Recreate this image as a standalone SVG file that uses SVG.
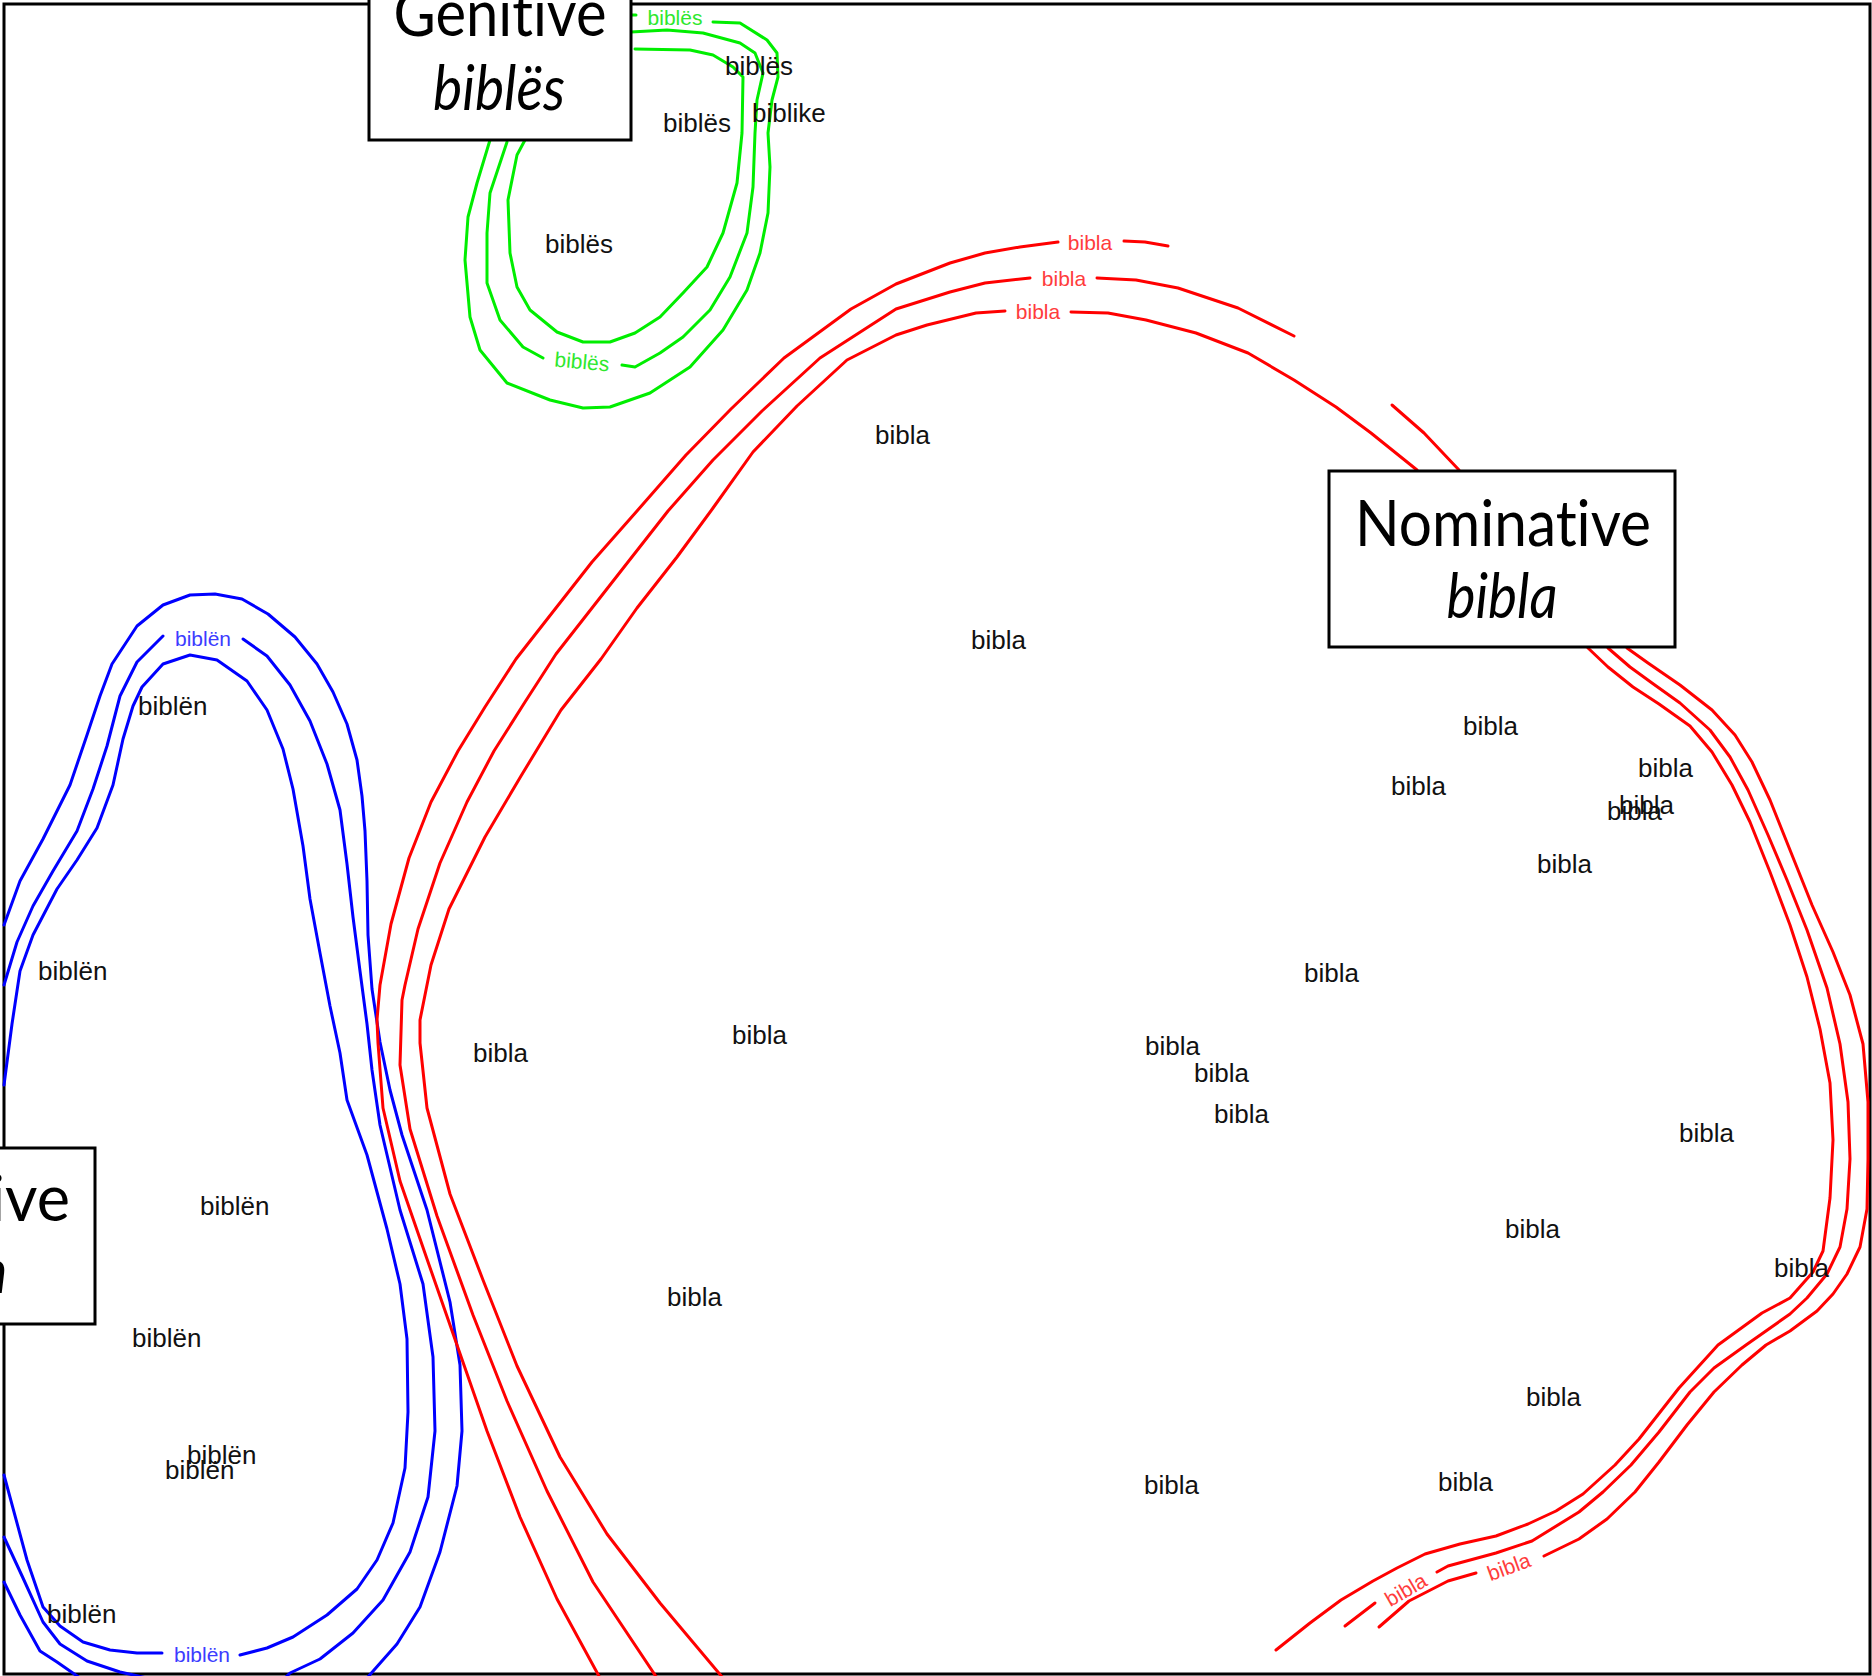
<svg xmlns="http://www.w3.org/2000/svg" width="1872" height="1676" viewBox="0 0 1872 1676">
<style>
.w{font-family:"Liberation Sans",Arial,sans-serif;font-size:26px;fill:#111}
.l{font-family:"Liberation Sans",Arial,sans-serif;font-size:21px;text-anchor:middle}
.lr{fill:#ff3c3c}.lg{fill:#2ee82e}.lb{fill:#3c3cff}
.t{font-family:Lato,"Open Sans",sans-serif;font-size:63px;fill:#000;font-variant-ligatures:none;font-feature-settings:"liga" 0,"dlig" 0}
.it{font-style:italic}
.c{fill:none;stroke-width:3;stroke-linejoin:round;stroke-linecap:round}
.r{stroke:#ff0000}.g{stroke:#00ee00}.b{stroke:#0000ff}
.box{fill:#fff;stroke:#000;stroke-width:3}
</style>
<rect x="0" y="0" width="1872" height="1676" fill="#fff"/>
<rect id="frame" x="4" y="4" width="1866" height="1670" fill="none" stroke="#000" stroke-width="3"/>

<g id="connectors">
  <!-- blue (Accusative) -->
  <polyline class="c b" points="4,925 20,881 43,839 70,785 87,735 100,696 112,664 137,626 163,605 190,595 215,594 242,599 268,614 295,637 317,664 333,692 347,724 357,760 362,796 365,831 367,881 368,935 372,989 380,1042 390,1090 402,1135 427,1210 450,1302 460,1365 462,1431 457,1486 440,1552 420,1607 397,1644 367,1678"/>
  <polyline class="c b" points="4,985 17,942 33,906 53,871 77,831 93,789 107,746 120,696 137,662 163,636"/>
  <polyline class="c b" points="243,639 267,656 290,685 310,721 327,764 340,810 347,864 353,917 360,971 367,1024 372,1070 380,1125 400,1210 423,1284 433,1357 435,1431 428,1497 410,1552 383,1600 353,1633 320,1659 290,1673 285,1678"/>
  <polyline class="c b" points="4,1085 12,1024 20,971 33,935 57,889 77,860 97,828 113,785 123,739 133,706 142,687 163,664 190,655 217,660 247,681 267,710 283,749 293,789 303,846 310,899 320,953 330,1006 340,1053 347,1100 367,1155 387,1229 400,1284 407,1339 408,1412 405,1468 393,1523 377,1560 357,1589 327,1615 293,1637 267,1648 240,1655"/>
  <polyline class="c b" points="162,1653 137,1653 110,1650 83,1642 60,1626 43,1607 27,1560 4,1475"/>
  <polyline class="c b" points="4,1537 23,1578 43,1622 60,1644 87,1661 120,1672 147,1678"/>
  <polyline class="c b" points="4,1582 20,1615 40,1651 57,1662 80,1678"/>
  <text class="l lb" x="203" y="646">biblën</text>
  <text class="l lb" x="202" y="1662">biblën</text>

  <!-- red (Nominative) -->
  <polyline class="c r" points="600,1678 557,1599 520,1517 487,1431 457,1345 427,1259 400,1181 383,1108 378,1043 377,1020 380,985 391,924 409,858 431,802 458,751 485,707 516,659 552,613 592,562 637,511 686,455 731,409 784,358 851,309 896,284 950,263 985,253 1020,247 1058,242"/>
  <polyline class="c r" points="1124,241 1145,242 1168,246"/>
  <polyline class="c r" points="657,1678 593,1582 547,1491 507,1401 473,1315 437,1216 410,1129 400,1065 402,1000 405,985 418,929 440,863 467,802 494,751 525,702 556,654 592,608 628,562 668,511 713,460 762,411 820,358 896,309 950,292 985,283 1030,278"/>
  <polyline class="c r" points="1097,278 1136,280 1178,288 1238,308 1294,336"/>
  <polyline class="c r" points="1392,405 1424,433 1459,470"/>
  <polyline class="c r" points="723,1678 660,1603 607,1534 560,1457 517,1366 483,1280 450,1194 427,1108 420,1043 420,1020 431,965 449,909 485,837 521,776 561,710 601,659 637,608 677,557 713,508 753,452 797,406 847,360 896,335 927,325 976,313 1005,311"/>
  <polyline class="c r" points="1071,312 1108,313 1146,320 1196,333 1248,353 1294,380 1336,407 1371,433 1417,470"/>
  <polyline class="c r" points="1588,648 1608,667 1633,687 1659,704 1690,726 1712,752 1732,785 1750,822 1770,872 1790,925 1807,977 1820,1029 1830,1083 1833,1140 1830,1198 1823,1251 1813,1272 1790,1298 1762,1313 1718,1345 1679,1388 1639,1439 1615,1465 1583,1494 1556,1511 1528,1524 1496,1536 1460,1544 1425,1554 1397,1568 1373,1581 1341,1600 1310,1623 1276,1650"/>
  <polyline class="c r" points="1608,648 1630,667 1652,683 1680,703 1710,730 1730,757 1748,790 1768,835 1787,880 1807,930 1827,988 1840,1044 1848,1102 1850,1159 1847,1209 1840,1247 1827,1274 1807,1298 1790,1314 1746,1345 1714,1368 1690,1392 1659,1432 1631,1465 1603,1492 1579,1512 1532,1541 1496,1553 1448,1566 1437,1572"/>
  <polyline class="c r" points="1375,1603 1345,1626"/>
  <polyline class="c r" points="1627,648 1648,663 1680,685 1712,710 1735,735 1752,762 1770,800 1790,850 1812,905 1833,952 1850,995 1863,1044 1868,1102 1868,1159 1867,1209 1860,1247 1847,1274 1833,1294 1817,1311 1790,1331 1766,1345 1742,1365 1714,1392 1687,1425 1659,1462 1635,1492 1607,1519 1579,1539 1544,1556"/>
  <polyline class="c r" points="1476,1573 1448,1581 1409,1601 1379,1627"/>
  <text class="l lr" x="1090" y="250">bibla</text>
  <text class="l lr" x="1064" y="286">bibla</text>
  <text class="l lr" x="1038" y="319">bibla</text>
  <text class="l lr" transform="translate(1406,1590) rotate(-30)" x="0" y="7">bibla</text>
  <text class="l lr" transform="translate(1509,1567) rotate(-20)" x="0" y="7">bibla</text>

  <!-- green (Genitive) -->
  <polyline class="c g" points="631,15 636,15"/>
  <polyline class="c g" points="713,22 740,23 767,40 777,53 778,77 772,100 768,133 770,167 768,213 760,253 747,290 723,330 690,367 650,393 610,407 583,408 550,400 507,383 480,350 470,317 465,260 468,217 477,183 490,140"/>
  <polyline class="c g" points="631,32 667,30 703,33 740,43 755,53 763,73 757,100 755,133 753,187 747,233 730,277 710,310 683,337 660,353 635,367 622,365"/>
  <polyline class="c g" points="543,358 523,347 500,320 487,283 487,233 490,193 507,142"/>
  <polyline class="c g" points="635,49 690,50 713,55 733,67 743,77 742,133 737,183 723,233 707,267 683,293 660,317 635,333 610,342 583,342 557,332 530,310 517,287 510,253 508,200 517,155 525,140"/>
  <text class="l lg" x="675" y="25">biblës</text>
  <text class="l lg" transform="translate(582,362) rotate(5)" x="0" y="7">biblës</text>
</g>

<g id="words">
  <text class="w" x="875" y="444">bibla</text>
  <text class="w" x="971" y="649">bibla</text>
  <text class="w" x="1463" y="735">bibla</text>
  <text class="w" x="1391" y="795">bibla</text>
  <text class="w" x="1638" y="777">bibla</text>
  <text class="w" x="1619" y="814">bibla</text>
  <text class="w" x="1607" y="820">bibla</text>
  <text class="w" x="1537" y="873">bibla</text>
  <text class="w" x="1304" y="982">bibla</text>
  <text class="w" x="473" y="1062">bibla</text>
  <text class="w" x="732" y="1044">bibla</text>
  <text class="w" x="1145" y="1055">bibla</text>
  <text class="w" x="1194" y="1082">bibla</text>
  <text class="w" x="1214" y="1123">bibla</text>
  <text class="w" x="1679" y="1142">bibla</text>
  <text class="w" x="1505" y="1238">bibla</text>
  <text class="w" x="1774" y="1277">bibla</text>
  <text class="w" x="667" y="1306">bibla</text>
  <text class="w" x="1526" y="1406">bibla</text>
  <text class="w" x="1144" y="1494">bibla</text>
  <text class="w" x="1438" y="1491">bibla</text>
  <text class="w" x="138" y="715">biblën</text>
  <text class="w" x="38" y="980">biblën</text>
  <text class="w" x="200" y="1215">biblën</text>
  <text class="w" x="132" y="1347">biblën</text>
  <text class="w" x="187" y="1464">biblën</text>
  <text class="w" x="165" y="1479">biblën</text>
  <text class="w" x="47" y="1623">biblën</text>
  <text class="w" x="725" y="75">biblës</text>
  <text class="w" x="663" y="132">biblës</text>
  <text class="w" x="545" y="253">biblës</text>
  <text class="w" x="752" y="122">biblike</text>
</g>

<g id="genitive">
  <rect class="box" x="369" y="-40" width="262" height="180"/>
  <text class="t" x="500" y="36" text-anchor="middle" textLength="213" lengthAdjust="spacingAndGlyphs">Genitive</text>
  <text class="t it" x="499" y="110" text-anchor="middle" textLength="132" lengthAdjust="spacingAndGlyphs">biblës</text>
</g>
<g id="nominative">
  <rect class="box" x="1329" y="471" width="346" height="176"/>
  <text class="t" x="1503" y="546" text-anchor="middle" textLength="296" lengthAdjust="spacingAndGlyphs">Nominative</text>
  <text class="t it" x="1502" y="618" text-anchor="middle" textLength="111" lengthAdjust="spacingAndGlyphs">bibla</text>
</g>
<g id="accusative">
  <rect class="box" x="-250" y="1148" width="345" height="176"/>
  <text class="t" x="70" y="1221" text-anchor="end">Accusative</text>
  <text class="t it" x="8" y="1293" text-anchor="end">biblën</text>
</g>
</svg>
